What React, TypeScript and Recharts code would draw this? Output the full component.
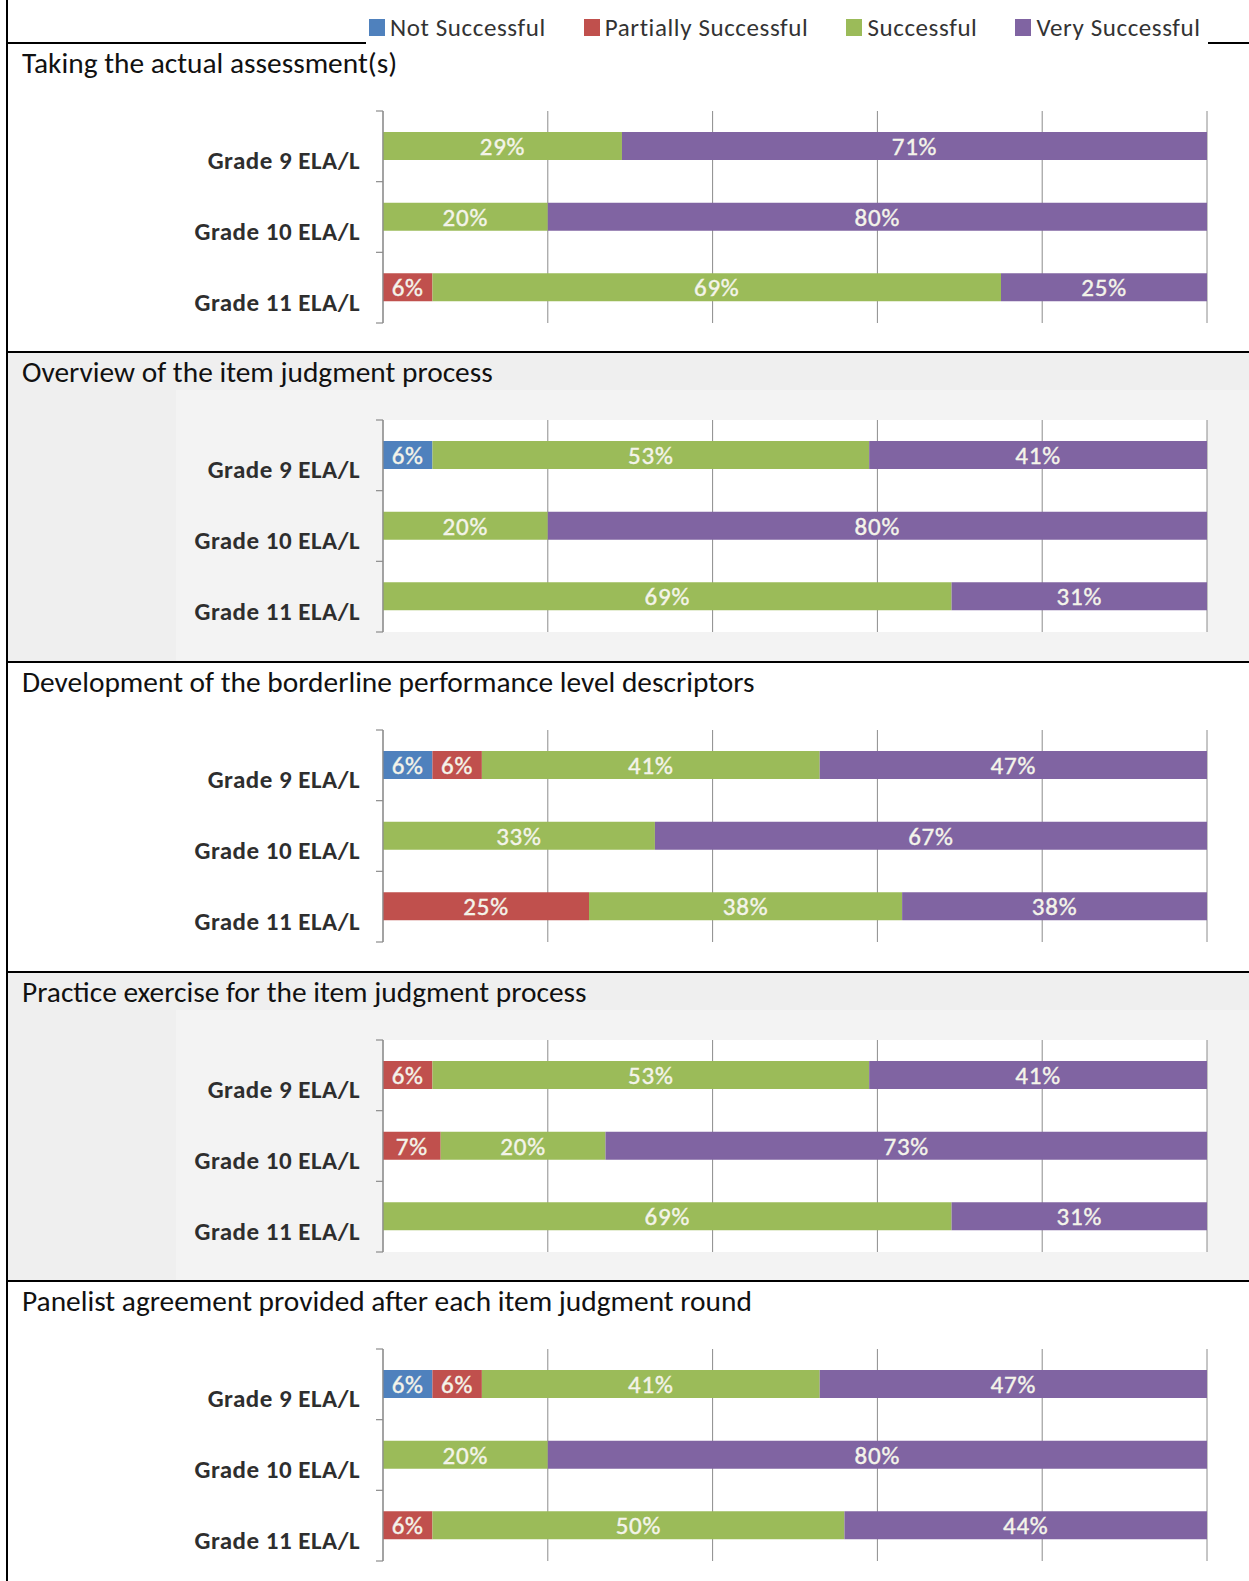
import React from 'react';
import { BarChart, Bar, XAxis, YAxis, CartesianGrid, LabelList, Legend } from 'recharts';

// ---------- data ----------
const grades = ['Grade 9 ELA/L', 'Grade 10 ELA/L', 'Grade 11 ELA/L'];

const panelTitles = [
  'Taking the actual assessment(s)',
  'Overview of the item judgment process',
  'Development of the borderline performance level descriptors',
  'Practice exercise for the item judgment process',
  'Panelist agreement provided after each item judgment round',
];

const seriesNames = ['Not Successful', 'Partially Successful', 'Successful', 'Very Successful'];
const seriesColors = ['#4f81bd', '#c0504d', '#9bbb59', '#8064a2'];

// values per panel, per grade (9, 10, 11)
const notSuccessful = [
  [null, null, null],
  [6, null, null],
  [6, null, null],
  [null, null, null],
  [6, null, null],
];
const partiallySuccessful = [
  [null, null, 6],
  [null, null, null],
  [6, null, 25],
  [6, 7, null],
  [6, null, 6],
];
const successful = [
  [29, 20, 69],
  [53, 20, 69],
  [41, 33, 38],
  [53, 20, 69],
  [41, 20, 50],
];
const verySuccessful = [
  [71, 80, 25],
  [41, 80, 31],
  [47, 67, 38],
  [41, 73, 31],
  [47, 80, 44],
];
const xTicks = [0, 20, 40, 60, 80, 100];

const seriesValues = [notSuccessful, partiallySuccessful, successful, verySuccessful];
const seriesKeys = ['ns', 'ps', 's', 'vs'];

// ---------- layout ----------
const W = 1249;
const H = 1581;
const rowTops = [43, 352, 662, 972, 1281];
const grayRows = [false, true, false, true, false];
const PLOT_OFFSET = 68; // plot top below row line
const PLOT_H = 212;
const AXIS_X = 383;
const PLOT_RIGHT = 1207;
const FONT = 'Carlito, Calibri, Lato, sans-serif';
const TITLE_FONT = 'Carlito, Calibri, Lato, sans-serif';

const buildData = (p: number) =>
  grades.map((g, i) => {
    const row: any = { grade: g };
    seriesKeys.forEach((k, s) => {
      row[k] = seriesValues[s][p][i];
    });
    return row;
  });

const fmt = (v: any) => {
  if (Array.isArray(v)) v = v[1] - v[0];
  if (v == null || v === 0) return '';
  return `${v}%`;
};

const CategoryTick = (props: any) => {
  const { x, y, payload, index, visibleTicksCount } = props;
  const half = PLOT_H / grades.length / 2;
  const ax = x + 23;
  const count = visibleTicksCount ?? grades.length;
  return (
    <g>
      <line x1={ax - 7} x2={ax} y1={y - half} y2={y - half} stroke="#8c8c8c" strokeWidth={1.2} />
      {index === count - 1 && (
        <line x1={ax - 7} x2={ax} y1={y + half} y2={y + half} stroke="#8c8c8c" strokeWidth={1.2} />
      )}
      <text
        x={x}
        y={y + 17}
        textAnchor="end"
        dominantBaseline="middle"
        fontFamily={FONT}
        fontWeight={700}
        fontSize={25}
        letterSpacing={0.5}
        fill="#2e2e2e"
      >
        {payload.value}
      </text>
    </g>
  );
};

const LegendContent = (props: any) => {
  const { payload } = props;
  return (
    <div style={{ display: 'flex', alignItems: 'center', height: '100%', paddingLeft: 3, whiteSpace: 'nowrap' }}>
      {(payload || []).map((e: any) => (
        <div key={e.value} style={{ display: 'flex', alignItems: 'center', marginRight: 38, flex: '0 0 auto' }}>
          <div style={{ width: 16, height: 17, background: e.color, marginRight: 5 }} />
          <span
            style={{ fontFamily: FONT, fontSize: 25, letterSpacing: 0.6, color: '#333', lineHeight: '26px' }}
          >
            {e.value}
          </span>
        </div>
      ))}
    </div>
  );
};

const Panel = ({ p }: { p: number }) => {
  const rowTop = rowTops[p];
  const rowBottom = p < rowTops.length - 1 ? rowTops[p + 1] : H;
  const first = p === 0;
  const chartTop = first ? 0 : rowTop;
  const chartH = rowBottom - chartTop;
  const plotTop = rowTop + PLOT_OFFSET;
  const margin = {
    top: plotTop - chartTop,
    bottom: chartH - (plotTop - chartTop) - PLOT_H,
    left: 0,
    right: W - PLOT_RIGHT,
  };
  const data = buildData(p);
  return (
    <div style={{ position: 'absolute', left: 0, top: chartTop, width: W, height: chartH }}>
      <BarChart width={W} height={chartH} data={data} layout="vertical" margin={margin} barSize={28}>
        <CartesianGrid horizontal={false} stroke="#8c8c8c" fill="#ffffff" />
        <XAxis type="number" domain={[0, 100]} ticks={xTicks} hide allowDataOverflow />
        <YAxis
          type="category"
          dataKey="grade"
          width={AXIS_X}
          axisLine={{ stroke: '#8c8c8c', strokeWidth: 1.2 }}
          tickLine={false}
          tickSize={0}
          tickMargin={23}
          tick={<CategoryTick />}
          interval={0}
        />
        {first && (
          <Legend
            verticalAlign="middle"
            align="center"
            layout="horizontal"
            content={<LegendContent />}
            wrapperStyle={{ top: 9, left: 366, width: 842, height: 37, background: '#fff' }}
          />
        )}
        {seriesKeys.map((k, s) => (
          <Bar
            key={k}
            dataKey={k}
            name={seriesNames[s]}
            stackId="a"
            fill={seriesColors[s]}
            isAnimationActive={false}
          >
            <LabelList
              dataKey={k}
              position="center"
              formatter={fmt}
              fill="#f4f4ea"
              stroke="#f4f4ea"
              strokeWidth={0.4}
              fontFamily={FONT}
              fontWeight={400}
              fontSize={25}
              letterSpacing={0.8}
            />
          </Bar>
        ))}
      </BarChart>
    </div>
  );
};

export default function App() {
  return (
    <div style={{ position: 'absolute', left: 0, top: 0, width: W, height: H, background: '#fff', overflow: 'hidden' }}>
      {/* gray row backgrounds */}
      {rowTops.map((t, p) => {
        if (!grayRows[p]) return null;
        const b = p < rowTops.length - 1 ? rowTops[p + 1] : H;
        return (
          <React.Fragment key={'bg' + p}>
            <div style={{ position: 'absolute', left: 8, top: t, width: W - 8, height: b - t, background: '#efefef' }} />
            <div style={{ position: 'absolute', left: 176, top: t + 38, width: W - 176, height: b - t - 38, background: '#f3f3f3' }} />
          </React.Fragment>
        );
      })}
      {/* table lines */}
      <div style={{ position: 'absolute', left: 6, top: 0, width: 2, height: H, background: '#000' }} />
      {rowTops.map((t, p) => (
        <div key={'ln' + p} style={{ position: 'absolute', left: 6, top: t - 1, width: W - 6, height: 2, background: '#000' }} />
      ))}
      {/* charts */}
      {panelTitles.map((_, p) => (
        <Panel key={p} p={p} />
      ))}
      {/* titles */}
      {panelTitles.map((title, p) => (
        <div
          key={'t' + p}
          style={{
            position: 'absolute',
            left: 22,
            top: rowTops[p] + 2,
            fontFamily: TITLE_FONT,
            fontSize: 29.4,
            lineHeight: '36px',
            color: '#111',
            whiteSpace: 'nowrap',
          }}
        >
          {title}
        </div>
      ))}
    </div>
  );
}
